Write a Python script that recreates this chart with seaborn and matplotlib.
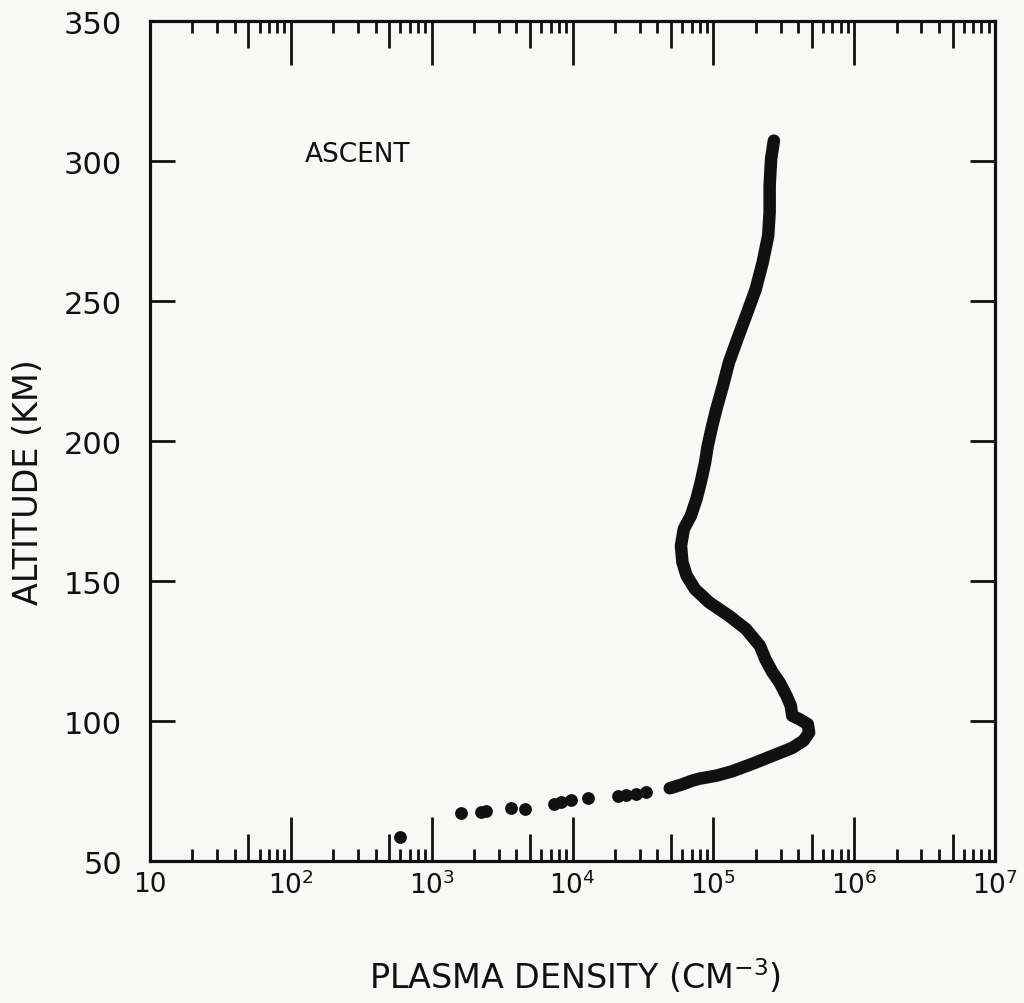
import numpy as np
import pandas as pd
import matplotlib
matplotlib.use("Agg")
import matplotlib.pyplot as plt
import seaborn as sns
from matplotlib.ticker import LogLocator, NullFormatter, NullLocator, FixedLocator, FixedFormatter

# ---- data ----
# sparse points at the bottom of the profile (plasma density cm^-3, altitude km)
dot_density = [6.0e2, 1.62e3, 2.24e3, 2.45e3, 3.63e3, 4.57e3, 7.41e3, 8.32e3, 9.77e3,
               1.29e4, 2.09e4, 2.40e4, 2.82e4, 3.31e4]
dot_altitude = [58.5, 67.0, 67.5, 67.8, 69.0, 68.6, 70.4, 71.2, 71.8,
                72.4, 73.1, 73.7, 74.1, 74.8]

# dense (continuous) part of the profile
line_density = [4.90e4, 6.03e4, 7.08e4, 7.94e4, 1.05e5, 1.35e5, 1.91e5, 2.63e5, 3.63e5,
                4.37e5, 4.79e5, 4.68e5, 4.07e5, 3.63e5, 3.55e5, 3.31e5, 2.95e5, 2.63e5,
                2.34e5, 2.14e5, 1.70e5, 1.29e5, 9.33e4, 7.41e4, 6.46e4, 6.03e4, 5.89e4,
                6.17e4, 6.92e4, 7.59e4, 8.13e4, 8.71e4, 9.12e4, 9.77e4, 1.05e5, 1.17e5,
                1.29e5, 1.48e5, 1.74e5, 2.00e5, 2.24e5, 2.45e5, 2.51e5, 2.51e5, 2.57e5,
                2.69e5]
line_altitude = [76.0, 77.4, 78.7, 79.4, 80.5, 82.0, 84.8, 87.6, 90.4,
                 93.0, 95.9, 98.9, 100.7, 101.9, 105.4, 109.0, 113.8, 117.4,
                 122.1, 126.9, 132.9, 137.6, 142.4, 147.1, 151.9, 156.7, 162.6,
                 168.6, 173.3, 179.3, 185.2, 192.0, 198.3, 205.0, 211.4, 219.8,
                 228.1, 236.4, 245.9, 254.3, 263.8, 273.3, 281.7, 291.2, 300.7,
                 307.3]

x_tick_values = [1e1, 1e2, 1e3, 1e4, 1e5, 1e6, 1e7]
x_tick_labels = ["10", "$10^2$", "$10^3$", "$10^4$", "$10^5$", "$10^6$", "$10^7$"]
x_mid_ticks = [5e1, 5e2, 5e3, 5e4, 5e5, 5e6]
y_tick_values = [50, 100, 150, 200, 250, 300, 350]
x_label = "PLASMA DENSITY (CM$^{-3}$)"
y_label = "ALTITUDE (KM)"
annotation = "ASCENT"

# ---- style ----
sns.set_style("white")
plt.rcParams["font.family"] = ["DejaVu Sans"]
bg = "#f8f8f6"
ink = "#111111"

fig = plt.figure(figsize=(10.24, 10.04), dpi=100, facecolor=bg)
ax = fig.add_axes([0.1465, 0.1414, 0.8252, 0.8366])
ax.set_facecolor(bg)
ax.set_xscale("log")
ax.set_xlim(10, 1e7)
ax.set_ylim(50, 350)

line_df = pd.DataFrame({"density": line_density, "altitude": line_altitude})
dot_df = pd.DataFrame({"density": dot_density, "altitude": dot_altitude})

sns.lineplot(data=line_df, x="density", y="altitude", sort=False, estimator=None,
             color=ink, linewidth=9, ax=ax,
             solid_capstyle="round", solid_joinstyle="round")
sns.scatterplot(data=dot_df, x="density", y="altitude", color=ink, s=85,
                linewidth=0, ax=ax)

ax.set_xlim(10, 1e7)
ax.set_ylim(50, 350)

for s in ax.spines.values():
    s.set_visible(True)
    s.set_linewidth(2.3)
    s.set_color(ink)

ax.xaxis.set_major_locator(FixedLocator(x_tick_values))
ax.xaxis.set_major_formatter(FixedFormatter(x_tick_labels))
ax.xaxis.set_minor_locator(LogLocator(base=10, subs=[2, 3, 4, 6, 7, 8, 9], numticks=20))
ax.xaxis.set_minor_formatter(NullFormatter())
ax.yaxis.set_major_locator(FixedLocator(y_tick_values))
ax.yaxis.set_minor_locator(NullLocator())

ax.tick_params(axis="x", which="major", direction="in", length=32, width=2,
               top=True, bottom=True, pad=7, labelsize=19, colors=ink)
ax.tick_params(axis="x", which="minor", direction="in", length=8.5, width=2,
               top=True, bottom=True, colors=ink)
ax.tick_params(axis="y", which="major", direction="in", length=18, width=2,
               left=True, right=True, pad=20, labelsize=22, colors=ink)

# medium-length ticks at 5 x 10^n on top and bottom
for loc in ["bottom", "top"]:
    sec = ax.secondary_xaxis(loc)
    sec.xaxis.set_major_locator(FixedLocator(x_mid_ticks))
    sec.xaxis.set_major_formatter(NullFormatter())
    sec.xaxis.set_minor_locator(NullLocator())
    sec.tick_params(which="major", direction="in", length=19.5, width=2, colors=ink)
    sec.tick_params(which="minor", length=0)
    for s in sec.spines.values():
        s.set_visible(False)

ax.set_xlabel(x_label, fontsize=24, color=ink)
ax.set_ylabel(y_label, fontsize=24, color=ink)
ax.xaxis.set_label_coords(0.503, -0.113)
ax.yaxis.set_label_coords(-0.124, 0.452)

ax.text(126, 302.5, annotation, fontsize=19, ha="left", va="center", color=ink)

fig.savefig("out.png", dpi=100, facecolor=bg)
